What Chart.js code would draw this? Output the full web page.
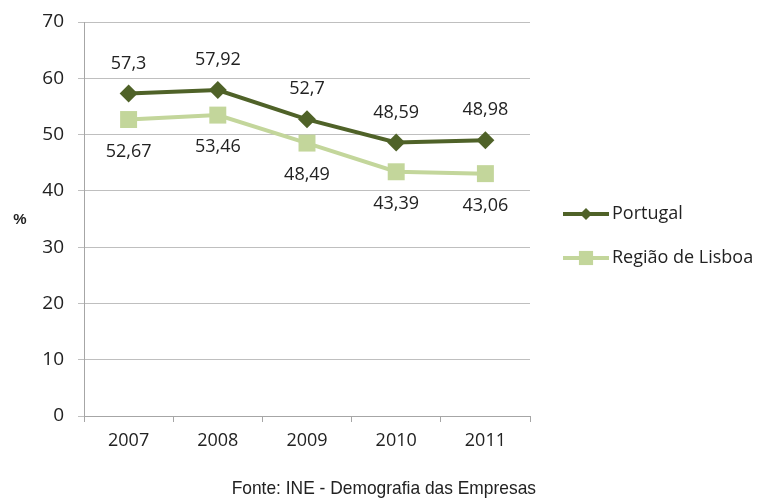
<!DOCTYPE html>
<html>
<head>
<meta charset="utf-8">
<script src="https://cdn.jsdelivr.net/npm/chart.js@4/dist/chart.umd.min.js"></script>
<style>
  html, body { margin: 0; padding: 0; background: #fff; }
  #wrap { width: 769px; height: 501px; }
</style>
</head>
<body>
<div id="wrap"><canvas id="chart" width="769" height="501"></canvas></div>
<script>
const years = ['2007', '2008', '2009', '2010', '2011'];
const portugal = [57.3, 57.92, 52.7, 48.59, 48.98];
const lisboa = [52.67, 53.46, 48.49, 43.39, 43.06];
const seriesNames = ['Portugal', 'Região de Lisboa'];
const source = 'Fonte: INE - Demografia das Empresas';

const DARK = '#4f6228';
const LIGHT = '#c3d69b';
const FONT = '"Open Sans", "Noto Sans", sans-serif';

// data labels, legend, axis unit and source note
const extras = {
  id: 'extras',
  afterDatasetsDraw(chart) {
    const ctx = chart.ctx;
    ctx.save();
    ctx.font = '18px ' + FONT;
    ctx.fillStyle = '#222';
    ctx.textAlign = 'center';
    ctx.textBaseline = 'middle';
    chart.data.datasets.forEach((ds, i) => {
      const meta = chart.getDatasetMeta(i);
      meta.data.forEach((pt, j) => {
        const txt = String(ds.data[j]).replace('.', ',');
        const dy = i === 0 ? -30 : 32;
        ctx.fillText(txt, pt.x, pt.y + dy);
      });
    });

    // legend
    const lx = 563, lw = 46;
    const rows = [
      { y: 214, color: DARK, style: 'rectRot', r: 6 },
      { y: 258, color: LIGHT, style: 'rect', r: 10 },
    ];
    rows.forEach((row, i) => {
      ctx.strokeStyle = row.color;
      ctx.lineWidth = 4;
      ctx.beginPath();
      ctx.moveTo(lx, row.y);
      ctx.lineTo(lx + lw, row.y);
      ctx.stroke();
      ctx.fillStyle = row.color;
      Chart.helpers.drawPoint(ctx, { pointStyle: row.style, radius: row.r, borderWidth: 0 }, lx + lw / 2, row.y);
      ctx.fillStyle = '#222';
      ctx.textAlign = 'left';
      ctx.textBaseline = 'middle';
      ctx.font = '18px ' + FONT;
      ctx.fillText(seriesNames[i], lx + lw + 3, row.y);
    });

    // unit
    ctx.font = 'bold 15px "Liberation Sans", Arial, sans-serif';
    ctx.textAlign = 'center';
    ctx.fillText('%', 20, 220);

    // source, slightly condensed
    ctx.font = '19px "Liberation Sans", Arial, sans-serif';
    ctx.textAlign = 'right';
    ctx.translate(536, 489);
    ctx.scale(0.915, 1);
    ctx.fillText(source, 0, 0);
    ctx.restore();
  }
};

new Chart(document.getElementById('chart'), {
  type: 'line',
  data: {
    labels: years,
    datasets: [
      {
        label: seriesNames[0],
        data: portugal,
        borderColor: DARK,
        backgroundColor: DARK,
        borderWidth: 4,
        pointStyle: 'rectRot',
        pointRadius: 9,
        pointBorderWidth: 0,
        tension: 0,
      },
      {
        label: seriesNames[1],
        data: lisboa,
        borderColor: LIGHT,
        backgroundColor: LIGHT,
        borderWidth: 4,
        pointStyle: 'rect',
        pointRadius: 12,
        pointBorderWidth: 0,
        tension: 0,
      },
    ],
  },
  options: {
    responsive: false,
    animation: false,
    layout: { padding: { top: 22, right: 239, left: 0, bottom: 0 } },
    plugins: { legend: { display: false }, tooltip: { enabled: false } },
    scales: {
      x: {
        offset: true,
        grid: { offset: true, drawOnChartArea: false, color: '#a6a6a6', tickLength: 6 },
        border: { color: '#a6a6a6' },
        ticks: { color: '#222', font: { family: FONT, size: 18 }, padding: 8 },
        afterFit(scale) { scale.height = 85; },
      },
      y: {
        min: 0,
        max: 70,
        ticks: { stepSize: 10, color: '#222', font: { family: FONT, size: 19 }, padding: 14 },
        grid: { color: '#bfbfbf', tickLength: 6 },
        border: { color: '#a6a6a6' },
        afterFit(scale) {
          scale.width = 84;
          scale.paddingTop = 0;
          scale.paddingBottom = 0;
        },
      },
    },
  },
  plugins: [extras],
});
</script>
</body>
</html>
